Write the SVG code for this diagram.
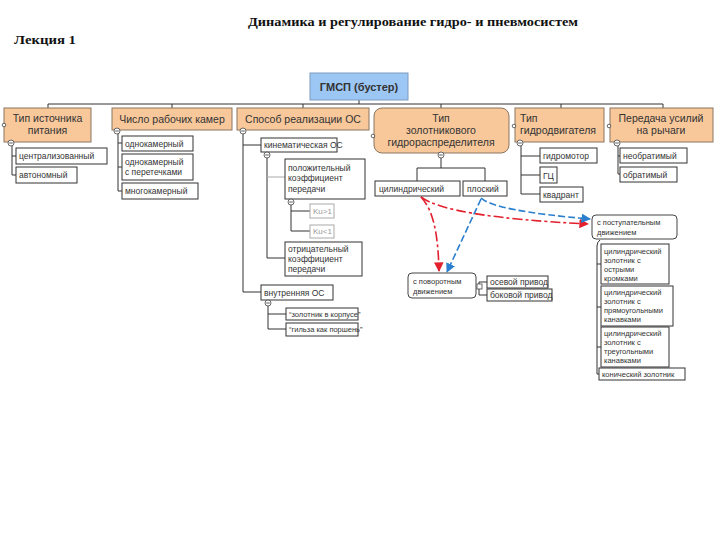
<svg xmlns="http://www.w3.org/2000/svg" width="720" height="540" viewBox="0 0 720 540">
<style>
.hdr{font-family:"Liberation Serif",serif;font-weight:bold;fill:#111}
.top{fill:#9cc6f3;stroke:#7d9cc0;stroke-width:1}
.top-t{font-family:"Liberation Sans",Arial,sans-serif;font-size:11px;font-weight:bold;fill:#333;text-anchor:middle}
.cat{fill:#f8c89b;stroke:#8a7660;stroke-width:1}
.cat-t{font-family:"Liberation Sans",Arial,sans-serif;font-size:10.5px;fill:#333}
.leaf{fill:#fff;stroke:#333;stroke-width:1}
.leafg{fill:#fff;stroke:#aaa;stroke-width:1}
.rnd{fill:#fff;stroke:#444;stroke-width:1}
.t{font-family:"Liberation Sans",Arial,sans-serif;font-size:8.5px;fill:#333}
.ts{font-family:"Liberation Sans",Arial,sans-serif;font-size:7.5px;fill:#333}
.tg{font-family:"Liberation Sans",Arial,sans-serif;font-size:8px;fill:#999}
.ln{fill:none;stroke:#333;stroke-width:1}
.lg{fill:none;stroke:#aaa;stroke-width:1}
.col{fill:#fff;stroke:#444;stroke-width:0.8}
.red{fill:none;stroke:#e3202e;stroke-width:1.6;stroke-dasharray:10 3 3 3}
.blue{fill:none;stroke:#2a7fcf;stroke-width:1.6;stroke-dasharray:7 3}
</style>
<defs>
<marker id="ar" viewBox="0 0 10 10" refX="9" refY="5" markerWidth="6" markerHeight="6" orient="auto"><path d="M0,0 L10,5 L0,10 z" fill="#e3202e"/></marker>
<marker id="ab" viewBox="0 0 10 10" refX="9" refY="5" markerWidth="6" markerHeight="6" orient="auto"><path d="M0,0 L10,5 L0,10 z" fill="#2a7fcf"/></marker>
<g id="minus"><circle r="3" class="col"/><line x1="-1.8" y1="0" x2="1.8" y2="0" stroke="#333" stroke-width="0.8"/></g>
</defs>
<rect width="720" height="540" fill="#fff"/>
<text class="hdr" x="248" y="26" font-size="13" textLength="330" lengthAdjust="spacingAndGlyphs">Динамика и регулирование гидро- и пневмосистем</text>
<text class="hdr" x="14" y="44" font-size="13" textLength="62" lengthAdjust="spacingAndGlyphs">Лекция 1</text>

<g id="connectors">
<path class="ln" d="M359 100 V104 M48 104 H663 M48 104 V108 M172 104 V108 M303 104 V108 M441 104 V108 M561 104 V108 M663 104 V108"/>
<path class="ln" d="M12 146 V175 M12 156 H16 M12 175 H16"/>
<path class="ln" d="M118 133 V191 M118 143 H122 M118 167 H122 M118 191 H122"/>
<path class="ln" d="M243 134 V292 M243 145 H261 M243 292 H261"/>
<path class="ln" d="M267 157 V258 M267 258 H285"/>
<path class="lg" d="M267 177 H285"/>
<path class="ln" d="M291 204 V231 M291 211 H310 M291 231 H310"/>
<path class="ln" d="M268 305 V329 M268 314 H286 M268 329 H286"/>
<path class="ln" d="M441 158 V168 M417 168 H485 M417 168 V181 M485 168 V181"/>
<path class="ln" d="M521 146 V194 M521 156 H540 M521 175 H540 M521 194 H540"/>
<path class="ln" d="M618 146 V174 M618 156 H620 M618 174 H620"/>
<path class="ln" d="M479 282 H487 M479 295 H487 M479 282 V295"/>
<path class="ln" d="M600 240 Q597 242 597 246 V374 M597 264 H601 M597 307 H601 M597 347 H601 M597 374 H599"/>
<path class="red" d="M421 197 Q447 217 588 224" marker-end="url(#ar)"/>
<path class="red" d="M421 197 C433 210 438 232 439 271" marker-end="url(#ar)"/>
<path class="blue" d="M481 198 Q495 211 590 219" marker-end="url(#ab)"/>
<path class="blue" d="M481 199 L447 272" marker-end="url(#ab)"/>
</g>

<g id="n-gmsp"><rect class="top" x="310" y="73" width="98" height="27"/><text class="top-t" x="359" y="91">ГМСП (бустер)</text></g>

<g id="n-ist"><rect class="cat" x="4" y="108" width="87" height="34"/><text class="cat-t" x="47.5" y="122" text-anchor="middle">Тип источника</text><text class="cat-t" x="47.5" y="134" text-anchor="middle">питания</text><circle cx="4" cy="125" r="1.8" class="col"/><use href="#minus" x="11" y="143"/></g>
<g id="n-kam"><rect class="cat" x="112" y="108" width="120" height="22"/><text class="cat-t" x="172" y="123" text-anchor="middle">Число рабочих камер</text><use href="#minus" x="117" y="131"/></g>
<g id="n-os"><rect class="cat" x="237" y="108" width="132" height="22"/><text class="cat-t" x="303" y="123" text-anchor="middle">Способ реализации ОС</text><use href="#minus" x="243" y="131"/></g>
<g id="n-zol"><rect class="cat" x="374" y="108" width="135" height="45" rx="8"/><text class="cat-t" x="441" y="122" text-anchor="middle" font-size="10">Тип</text><text class="cat-t" x="441" y="134" text-anchor="middle" font-size="10">золотникового</text><text class="cat-t" x="441" y="146" text-anchor="middle" font-size="10">гидрораспределителя</text><circle cx="373" cy="136" r="1.8" class="col"/><use href="#minus" x="441" y="155"/></g>
<g id="n-gd"><rect class="cat" x="515" y="108" width="89" height="34"/><text class="cat-t" x="520" y="122">Тип</text><text class="cat-t" x="520" y="134">гидродвигателя</text><circle cx="514" cy="126" r="1.8" class="col"/><use href="#minus" x="520" y="143"/></g>
<g id="n-per"><rect class="cat" x="610" y="108" width="103" height="34"/><text class="cat-t" x="661" y="122" text-anchor="middle">Передача усилий</text><text class="cat-t" x="661" y="134" text-anchor="middle">на рычаги</text><circle cx="609" cy="126" r="1.8" class="col"/><use href="#minus" x="617" y="143"/></g>

<g id="n-centr"><rect class="leaf" x="16" y="148" width="91" height="16"/><text class="t" x="19" y="159">централизованный</text></g>
<g id="n-avt"><rect class="leaf" x="16" y="167" width="61" height="16"/><text class="t" x="19" y="178">автономный</text></g>

<g id="n-odn"><rect class="leaf" x="122" y="136" width="71" height="15"/><text class="t" x="125" y="147">однокамерный</text></g>
<g id="n-odnp"><rect class="leaf" x="122" y="154" width="71" height="26"/><text class="t" x="125" y="165">однокамерный</text><text class="t" x="125" y="175">с перетечками</text></g>
<g id="n-mnog"><rect class="leaf" x="122" y="183" width="76" height="16"/><text class="t" x="125" y="194">многокамерный</text></g>

<g id="n-kin"><rect class="leaf" x="261" y="138" width="76" height="14"/><text class="t" x="264" y="148">кинематическая ОС</text><use href="#minus" x="267" y="155"/></g>
<g id="n-pol"><rect class="leaf" x="285" y="159" width="80" height="40"/><text class="t" x="288" y="171">положительный</text><text class="t" x="288" y="181">коэффициент</text><text class="t" x="288" y="192">передачи</text><use href="#minus" x="291" y="202"/></g>
<g id="n-ku1"><rect class="leafg" x="310" y="204" width="24" height="14"/><text class="tg" x="313" y="214">Ku&gt;1</text></g>
<g id="n-ku2"><rect class="leafg" x="310" y="225" width="24" height="13"/><text class="tg" x="313" y="234">Ku&lt;1</text></g>
<g id="n-otr"><rect class="leaf" x="285" y="242" width="77" height="34"/><text class="t" x="288" y="252">отрицательный</text><text class="t" x="288" y="262">коэффициент</text><text class="t" x="288" y="272">передачи</text></g>
<g id="n-vn"><rect class="leaf" x="261" y="285" width="72" height="15"/><text class="t" x="264" y="296">внутренняя ОС</text><use href="#minus" x="268" y="303"/></g>
<g id="n-zk"><rect class="leaf" x="286" y="308" width="72" height="12"/><text class="ts" x="289" y="317" font-size="6.5">“золотник в корпусе”</text></g>
<g id="n-gp"><rect class="leaf" x="286" y="323" width="72" height="13"/><text class="ts" x="289" y="332" font-size="6.5">“гильза как поршень”</text></g>

<g id="n-cil"><rect class="leaf" x="375" y="181" width="85" height="15"/><text class="t" x="379" y="192">цилиндрический</text></g>
<g id="n-plo"><rect class="leaf" x="463" y="181" width="44" height="15"/><text class="t" x="467" y="192">плоский</text></g>
<g id="n-post"><rect class="rnd" x="592" y="215" width="85" height="24" rx="4"/><text class="ts" x="597" y="225">с поступательным</text><text class="ts" x="597" y="235">движением</text></g>
<g id="n-pov"><rect class="rnd" x="408" y="273" width="68" height="25" rx="4"/><text class="ts" x="413" y="284">с поворотным</text><text class="ts" x="413" y="294">движением</text><rect x="477" y="284" width="5" height="5" class="col"/></g>
<g id="n-os-pr"><rect class="leaf" x="487" y="276" width="61" height="12"/><text class="t" x="490" y="285">осевой привод</text></g>
<g id="n-bok"><rect class="leaf" x="487" y="289" width="65" height="12"/><text class="t" x="490" y="298">боковой привод</text></g>

<g id="n-gm"><rect class="leaf" x="540" y="148" width="57" height="15"/><text class="t" x="543" y="159">гидромотор</text></g>
<g id="n-gc"><rect class="leaf" x="540" y="167" width="17" height="16"/><text class="t" x="543" y="179" font-size="10" fill="#111">ГЦ</text></g>
<g id="n-kv"><rect class="leaf" x="540" y="187" width="43" height="15"/><text class="t" x="543" y="198">квадрант</text></g>

<g id="n-neobr"><rect class="leaf" x="620" y="148" width="67" height="15"/><text class="t" x="623" y="159">необратимый</text></g>
<g id="n-obr"><rect class="leaf" x="620" y="167" width="57" height="15"/><text class="t" x="623" y="178">обратимый</text></g>

<g id="n-c1"><rect class="leaf" x="601" y="244" width="68" height="40"/><text class="ts" x="604" y="254">цилиндрический</text><text class="ts" x="604" y="263">золотник с</text><text class="ts" x="604" y="272">острыми</text><text class="ts" x="604" y="281">кромками</text></g>
<g id="n-c2"><rect class="leaf" x="601" y="286" width="72" height="40"/><text class="ts" x="604" y="295">цилиндрический</text><text class="ts" x="604" y="304">золотник с</text><text class="ts" x="604" y="313">прямоугольными</text><text class="ts" x="604" y="322">канавками</text></g>
<g id="n-c3"><rect class="leaf" x="601" y="327" width="68" height="40"/><text class="ts" x="604" y="336">цилиндрический</text><text class="ts" x="604" y="345">золотник с</text><text class="ts" x="604" y="354">треугольными</text><text class="ts" x="604" y="363">канавками</text></g>
<g id="n-kon"><rect class="leaf" x="599" y="368" width="86" height="12"/><text class="ts" x="602" y="377">конический золотник</text></g>
</svg>
